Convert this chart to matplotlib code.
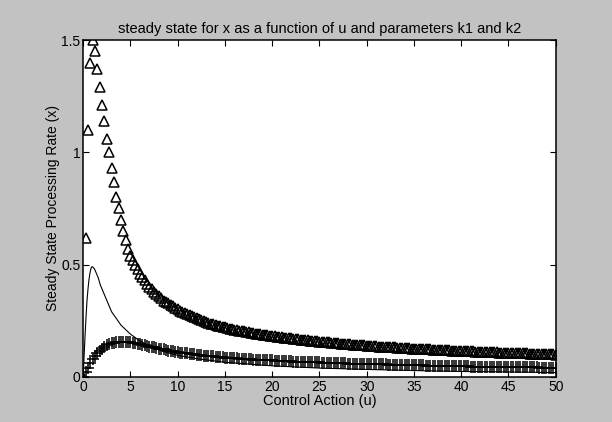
import numpy as np
import matplotlib
matplotlib.use('Agg')
import matplotlib.pyplot as plt

plt.rcParams['font.family'] = ['Liberation Sans', 'DejaVu Sans']

# control action grid for the marker series (step 0.25)
u = np.arange(0, 50.001, 0.25)

# triangles: steady state x, first parameter set
x_tri = [
    0.00, 0.62, 1.10, 1.40, 1.50, 1.45, 1.37, 1.29, 1.21, 1.14,
    1.06, 1.00, 0.93, 0.87, 0.80, 0.75, 0.70, 0.65, 0.61, 0.57,
    0.54, 0.52, 0.50, 0.48, 0.46, 0.445, 0.43, 0.415, 0.40, 0.39,
    0.38, 0.37, 0.36, 0.35, 0.34, 0.335, 0.33, 0.32, 0.315, 0.305,
    0.300, 0.295, 0.290, 0.285, 0.280, 0.275, 0.270, 0.265, 0.260, 0.256,
    0.252, 0.248, 0.244, 0.240, 0.237, 0.234, 0.231, 0.228, 0.225, 0.222,
    0.220, 0.217, 0.215, 0.212, 0.210, 0.208, 0.206, 0.204, 0.202, 0.200,
    0.198, 0.196, 0.194, 0.192, 0.191, 0.189, 0.188, 0.186, 0.185, 0.183,
    0.182, 0.180, 0.179, 0.177, 0.176, 0.175, 0.173, 0.172, 0.171, 0.169,
    0.168, 0.167, 0.166, 0.165, 0.163, 0.162, 0.161, 0.160, 0.159, 0.158,
    0.157, 0.156, 0.155, 0.154, 0.153, 0.152, 0.151, 0.150, 0.149, 0.148,
    0.147, 0.146, 0.145, 0.145, 0.144, 0.143, 0.142, 0.141, 0.141, 0.140,
    0.139, 0.138, 0.138, 0.137, 0.136, 0.135, 0.135, 0.134, 0.133, 0.133,
    0.132, 0.131, 0.131, 0.130, 0.129, 0.129, 0.128, 0.128, 0.127, 0.126,
    0.126, 0.125, 0.125, 0.124, 0.123, 0.123, 0.122, 0.122, 0.121, 0.121,
    0.120, 0.120, 0.119, 0.119, 0.118, 0.118, 0.117, 0.117, 0.116, 0.116,
    0.115, 0.115, 0.114, 0.114, 0.113, 0.113, 0.112, 0.112, 0.112, 0.111,
    0.111, 0.110, 0.110, 0.109, 0.109, 0.109, 0.108, 0.108, 0.107, 0.107,
    0.107, 0.106, 0.106, 0.105, 0.105, 0.105, 0.104, 0.104, 0.104, 0.103,
    0.103, 0.103, 0.102, 0.102, 0.101, 0.101, 0.101, 0.100, 0.100, 0.100,
    0.099,
]

# plus markers: second parameter set
x_plus = [
    0.000, 0.020, 0.040, 0.060, 0.078, 0.093, 0.106, 0.117, 0.126, 0.134,
    0.140, 0.145, 0.149, 0.152, 0.154, 0.156, 0.157, 0.157, 0.157, 0.156,
    0.154, 0.152, 0.150, 0.148, 0.145, 0.143, 0.140, 0.138, 0.135, 0.133,
    0.131, 0.128, 0.126, 0.124, 0.122, 0.120, 0.117, 0.115, 0.113, 0.111,
    0.110, 0.108, 0.107, 0.105, 0.104, 0.102, 0.101, 0.100, 0.098, 0.097,
    0.096, 0.095, 0.094, 0.093, 0.092, 0.091, 0.090, 0.089, 0.088, 0.087,
    0.086, 0.085, 0.084, 0.084, 0.083, 0.082, 0.081, 0.081, 0.080, 0.079,
    0.079, 0.078, 0.077, 0.077, 0.076, 0.076, 0.075, 0.074, 0.074, 0.073,
    0.073, 0.072, 0.072, 0.071, 0.071, 0.070, 0.070, 0.069, 0.069, 0.068,
    0.068, 0.067, 0.067, 0.066, 0.066, 0.066, 0.065, 0.065, 0.064, 0.064,
    0.064, 0.063, 0.063, 0.062, 0.062, 0.062, 0.061, 0.061, 0.061, 0.060,
    0.060, 0.060, 0.059, 0.059, 0.059, 0.058, 0.058, 0.058, 0.057, 0.057,
    0.057, 0.057, 0.056, 0.056, 0.056, 0.055, 0.055, 0.055, 0.055, 0.054,
    0.054, 0.054, 0.054, 0.053, 0.053, 0.053, 0.053, 0.052, 0.052, 0.052,
    0.052, 0.051, 0.051, 0.051, 0.051, 0.050, 0.050, 0.050, 0.050, 0.050,
    0.049, 0.049, 0.049, 0.049, 0.048, 0.048, 0.048, 0.048, 0.048, 0.047,
    0.047, 0.047, 0.047, 0.047, 0.046, 0.046, 0.046, 0.046, 0.046, 0.045,
    0.045, 0.045, 0.045, 0.045, 0.045, 0.044, 0.044, 0.044, 0.044, 0.044,
    0.044, 0.043, 0.043, 0.043, 0.043, 0.043, 0.043, 0.042, 0.042, 0.042,
    0.042, 0.042, 0.042, 0.041, 0.041, 0.041, 0.041, 0.041, 0.041, 0.040,
    0.040,
]

# solid line: third parameter set
u_line = [0, 0.1, 0.2, 0.3, 0.4, 0.5, 0.6, 0.7, 0.8, 0.9, 1.0, 1.2, 1.4, 1.6,
          1.8, 2.0, 2.5, 3, 3.5, 4, 4.5, 5, 6, 7, 8, 9, 10, 12, 15, 20, 25,
          30, 35, 40, 45, 50]
x_line = [0, 0.10, 0.19, 0.27, 0.34, 0.39, 0.43, 0.46, 0.48, 0.49, 0.49, 0.48,
          0.46, 0.44, 0.41, 0.39, 0.34, 0.29, 0.26, 0.23, 0.21, 0.19, 0.16,
          0.138, 0.12, 0.107, 0.096, 0.081, 0.065, 0.049, 0.039, 0.033,
          0.028, 0.024, 0.022, 0.019]

xticks = [0, 5, 10, 15, 20, 25, 30, 35, 40, 45, 50]
yticks = [0, 0.5, 1, 1.5]
ytick_labels = ['0', '0.5', '1', '1.5']

fig = plt.figure(figsize=(6.12, 4.22), dpi=100, facecolor='#c2c2c2')
ax = fig.add_axes([0.136, 0.107, 0.772, 0.798])

ax.plot(u, x_tri, linestyle='none', marker='^', markersize=7.5,
        markerfacecolor='none', markeredgecolor='k', markeredgewidth=1.1)
ax.plot(u, x_plus, linestyle='none', marker='+', markersize=8,
        color='k', markeredgewidth=1.1)
ax.plot(u_line, x_line, color='k', linewidth=0.8)

ax.set_xlim(0, 50)
ax.set_ylim(0, 1.5)
ax.set_xticks(xticks)
ax.set_yticks(yticks)
ax.set_yticklabels(ytick_labels)
ax.tick_params(direction='in', top=True, right=True, labelsize=10, length=4,
               width=0.8, pad=2)
for s in ax.spines.values():
    s.set_linewidth(1.1)

ax.set_title('steady state for x as a function of u and parameters k1 and k2',
             fontsize=10.5, pad=5)
ax.set_xlabel('Control Action (u)', fontsize=10.5, labelpad=0)
ax.set_ylabel('Steady State Processing Rate (x)', fontsize=10, labelpad=1)

plt.savefig('out.png', dpi=100, facecolor=fig.get_facecolor())
